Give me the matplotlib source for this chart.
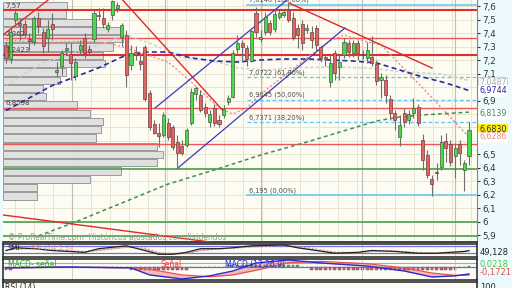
import numpy as np
import matplotlib
matplotlib.use('Agg')
import matplotlib.pyplot as plt
from matplotlib.ticker import FuncFormatter, FixedLocator

W, H = 512, 288

###############################################################################
# DATA
###############################################################################
opens = [7.314, 7.209, 7.500, 7.477, 7.470, 7.358, 7.336, 7.515, 7.410, 7.366,
         7.470, 7.113, 7.157, 7.276, 7.246, 7.083, 7.276, 7.366, 7.284, 7.358,
         7.537, 7.515, 7.432, 7.537, 7.589, 7.373, 7.388, 7.165, 7.261, 7.194,
         7.299, 6.956, 6.726, 6.659, 6.644, 6.733, 6.704, 6.592, 6.562, 6.569,
         6.733, 6.949, 6.942, 6.852, 6.741, 6.845, 6.756, 6.793, 6.890, 6.927,
         7.284, 7.328, 7.291, 7.194, 7.552, 7.358, 7.410, 7.477, 7.432, 7.522,
         7.537, 7.574, 7.515, 7.440, 7.470, 7.425, 7.410, 7.440, 7.299, 7.224,
         7.038, 7.254, 7.150, 7.239, 7.328, 7.254, 7.328, 7.246, 7.217, 7.224,
         7.172, 7.053, 7.053, 6.912, 6.808, 6.629, 6.808, 6.756, 6.808, 6.852,
         6.607, 6.495, 6.317, 6.369, 6.406, 6.599, 6.577, 6.488, 6.577, 6.384,
         6.488]
closes = [7.217, 7.410, 7.552, 7.462, 7.395, 7.343, 7.515, 7.455, 7.306, 7.432,
          7.432, 7.128, 7.254, 7.291, 7.180, 7.187, 7.314, 7.254, 7.261, 7.552,
          7.529, 7.470, 7.462, 7.641, 7.611, 7.462, 7.090, 7.254, 7.239, 7.172,
          6.912, 6.704, 6.659, 6.637, 6.793, 6.629, 6.555, 6.510, 6.510, 6.681,
          6.964, 6.994, 6.830, 6.808, 6.800, 6.733, 6.726, 6.837, 6.919, 7.254,
          7.328, 7.299, 7.209, 7.418, 7.410, 7.373, 7.522, 7.410, 7.544, 7.552,
          7.559, 7.500, 7.366, 7.388, 7.328, 7.440, 7.351, 7.314, 7.217, 7.209,
          7.180, 7.105, 7.187, 7.336, 7.261, 7.328, 7.254, 7.239, 7.276, 7.180,
          7.045, 7.075, 6.942, 6.808, 6.756, 6.718, 6.741, 6.800, 6.845, 6.733,
          6.458, 6.346, 6.279, 6.361, 6.592, 6.547, 6.443, 6.547, 6.510, 6.436,
          6.683]
highs = [7.336, 7.440, 7.574, 7.515, 7.500, 7.403, 7.529, 7.559, 7.440, 7.500,
         7.552, 7.187, 7.276, 7.328, 7.328, 7.217, 7.351, 7.403, 7.314, 7.574,
         7.589, 7.589, 7.485, 7.648, 7.633, 7.477, 7.425, 7.314, 7.306, 7.239,
         7.314, 6.979, 6.756, 6.733, 6.815, 6.770, 6.718, 6.644, 6.607, 6.696,
         6.994, 7.008, 6.979, 6.882, 6.830, 6.875, 6.793, 6.867, 6.942, 7.276,
         7.388, 7.351, 7.314, 7.440, 7.596, 7.425, 7.559, 7.500, 7.574, 7.574,
         7.574, 7.626, 7.559, 7.470, 7.500, 7.470, 7.455, 7.462, 7.314, 7.246,
         7.239, 7.276, 7.239, 7.366, 7.351, 7.351, 7.351, 7.276, 7.336, 7.381,
         7.202, 7.105, 7.090, 6.942, 6.830, 6.793, 6.845, 6.830, 6.919, 6.875,
         6.651, 6.532, 6.346, 6.436, 6.644, 6.659, 6.607, 6.584, 6.607, 6.458,
         6.741]
lows = [7.180, 7.180, 7.470, 7.351, 7.373, 7.276, 7.314, 7.403, 7.254, 7.261,
        7.351, 7.075, 7.090, 7.239, 7.053, 7.053, 7.239, 7.217, 7.239, 7.336,
        7.500, 7.440, 7.410, 7.500, 7.559, 7.306, 7.001, 7.128, 7.202, 7.128,
        6.897, 6.681, 6.651, 6.555, 6.629, 6.607, 6.532, 6.406, 6.495, 6.555,
        6.718, 6.904, 6.815, 6.778, 6.704, 6.711, 6.704, 6.770, 6.867, 6.919,
        7.239, 7.187, 7.157, 7.187, 7.373, 7.336, 7.388, 7.388, 7.410, 7.507,
        7.522, 7.485, 7.351, 7.291, 7.276, 7.403, 7.291, 7.276, 7.187, 7.157,
        7.001, 7.053, 7.053, 7.217, 7.224, 7.224, 7.202, 7.209, 7.180, 7.157,
        7.016, 6.919, 6.882, 6.756, 6.681, 6.562, 6.704, 6.726, 6.770, 6.711,
        6.384, 6.324, 6.190, 6.309, 6.384, 6.443, 6.413, 6.324, 6.421, 6.227,
        6.421]

# volume profile (relative volume per price band, top band first)
profile_vol = [64, 63, 93, 117, 120, 110, 100, 102, 63, 57, 40, 43,
               74, 87, 100, 98, 93, 154, 160, 154, 118, 87, 34, 34]
profile_top = 7.636
profile_step = 0.0615

# moving averages (bar index, value)
ma_blue_idx = [0, 10, 20, 25, 30, 35, 40, 45, 50, 55, 60, 65, 70, 75, 80, 85, 90, 95, 100]
ma_blue_val = [6.826, 7.012, 7.143, 7.224, 7.261, 7.261, 7.217, 7.194, 7.187, 7.202,
               7.209, 7.209, 7.202, 7.194, 7.180, 7.128, 7.075, 7.031, 6.9744]
ma_green_idx = [7, 15, 25, 35, 45, 55, 65, 75, 80, 85, 90, 100]
ma_green_val = [5.893, 5.997, 6.138, 6.279, 6.384, 6.495, 6.592, 6.696, 6.748, 6.778, 6.793, 6.8139]
ma_grey_idx = [0, 8, 20, 26, 32, 38, 44, 50, 56, 62, 70, 78, 86, 94, 100]
ma_grey_val = [7.016, 7.180, 7.314, 7.388, 7.314, 7.217, 7.202, 7.143, 7.128, 7.143,
               7.150, 7.143, 7.113, 7.098, 7.0487]
ma_pink_idx = [0, 8, 16, 22, 26, 35, 40, 46, 49, 52, 55, 60, 65, 70, 73, 78, 81, 90, 100]
ma_pink_val = [7.35, 7.33, 7.34, 7.33, 7.291, 7.187, 7.038, 6.845, 6.800, 6.845,
               6.949, 7.083, 7.217, 7.343, 7.388, 7.336, 7.314, 6.994, 6.6286]

# drawn trend lines: (idx0, price0, idx1, price1)
red_trends = [(-0.65, 7.388, 9.1, 7.648),
              (25.0, 7.655, 47.0, 6.820),
              (61.1, 7.626, 92.0, 7.142),
              (-0.65, 6.049, 44.1, 5.848)]
blue_channel = [(32.2, 6.845, 60.7, 7.648),
                (37.1, 6.398, 73.2, 7.440)]

# horizontal levels
red_thick = [7.57, 7.24]
red_thin = [7.362, 6.845, 6.577]
green_levels = [6.39, 5.997, 5.893]
left_labels = [(7.57, '7,57'), (7.362, '7,362'), (7.24, '7,2423'), (6.85, '6,8598')]

# fibonacci retracement
fib_start = 52.0
fib_levels = [7.6140, 7.0722, 6.9045, 6.7371, 6.195]
fib_names = ['7,6140 (100,00%)', '7,0722 (61,80%)', '6,9045 (50,00%)',
             '6,7371 (38,20%)', '6,195 (0,00%)']

# indicator 1 (SMI) and signal
smi_idx = [0, 2, 6, 10, 17, 20, 26, 30, 33, 36, 39, 42, 46, 49, 53, 60, 63, 67, 71,
           76, 79, 84, 89, 93, 96, 99, 100]
smi_val = [50, 71, 64, 50, 36, 64, 86, 50, 21, 21, 36, 64, 64, 71, 86, 93, 71, 50, 29,
           36, 50, 43, 29, 29, 36, 43, 49.128]
smi_sig = [50, 60, 66, 56, 42, 50, 75, 68, 35, 22, 28, 50, 62, 68, 78, 88, 82, 60, 38,
           32, 45, 46, 35, 30, 33, 40, 45]
smi_levels = [85, 30]

# MACD
macd_idx = [0, 13, 27, 31, 38, 44, 49, 54, 61, 68, 78, 86, 92, 97, 100]
macd_val = [-0.02, 0.0, -0.02, -0.17, -0.257, -0.19, -0.086, 0.086, 0.15, 0.086,
            0.02, -0.086, -0.214, -0.19, -0.150]
macd_sig = [-0.02, -0.005, -0.015, -0.05, -0.17, -0.21, -0.17, -0.07, 0.09, 0.12,
            0.07, -0.02, -0.13, -0.18, -0.1721]
macd_hist = [-0.06, -0.06, 0, 0, 0, 0, 0, 0, 0, 0,
             0, 0, 0, 0, 0, 0, 0, 0, 0, 0,
             0, 0, 0, 0, 0, 0, 0, -0.07, -0.07, -0.07,
             -0.07, -0.07, -0.07, -0.07, -0.07, -0.07, -0.07, -0.07, -0.07, -0.07,
             0, 0, 0, 0, 0, 0, 0, 0, 0.05, 0.05,
             0.05, 0.05, 0.05, 0.05, 0.05, 0.05, 0.05, 0.05, 0.05, 0.05,
             0.05, 0.05, 0.05, 0.05, 0, 0, -0.07, -0.07, -0.07, -0.07,
             -0.07, -0.07, -0.07, -0.07, -0.07, -0.07, -0.07, -0.07, -0.07, -0.07,
             -0.07, -0.07, -0.07, -0.07, -0.07, -0.07, -0.07, -0.07, -0.07, -0.07,
             -0.07, -0.07, -0.07, -0.07, -0.07, -0.07, -0.07, -0.07, 0, 0,
             0.0218]

# price ticks that sit behind the value boxes on the right
hidden_ticks = [7.0, 6.8, 6.7, 6.6]

###############################################################################
# FIGURE
###############################################################################
def px_rect(x0, y0, x1, y1):
    return [x0 / W, 1 - y1 / H, (x1 - x0) / W, (y1 - y0) / H]

XMIN, XMAX = -0.65, 101.73
BG = '#fcfcf2'
GRID = '#e9e4cf'
MONTHS = [14.3, 34.3, 55.1, 76.9, 97.0]

fig = plt.figure(figsize=(W / 100, H / 100), dpi=100, facecolor='#ecfafd')
ax = fig.add_axes(px_rect(3, 0, 477, 242))
ax.set_facecolor(BG)
ax.set_xlim(XMIN, XMAX)
ax.set_ylim(5.848, 7.648)

# grid
for g in np.arange(14.3 - 4.1 * 3, XMAX, 4.1):
    ax.axvline(g, color=GRID, lw=0.7, zorder=0)
for m in MONTHS:
    ax.axvline(m, color='#bdbdb5', lw=0.8, zorder=0.5)
for lv in np.arange(5.9, 7.65, 0.1):
    ax.axhline(lv, color=GRID, lw=0.7, zorder=0)

# volume profile
centers = profile_top - profile_step * (np.arange(len(profile_vol)) + 0.5)
ax.barh(centers, np.array(profile_vol) / 4.63, left=XMIN, height=profile_step * 0.88,
        color='#e0e0e0', edgecolor='#9a9a9a', lw=0.7, zorder=1.5)
for lv, txt in left_labels:
    ax.text(XMIN + 0.6, lv + 0.012, txt, fontsize=5, color='#444444', zorder=6, va='bottom')

# horizontal levels
for lv in red_thick:
    ax.axhline(lv, color='#e52b2b', lw=1.5, zorder=2)
for lv in red_thin:
    ax.axhline(lv, color='#ee5555', lw=1.0, zorder=2)
for lv in green_levels:
    ax.axhline(lv, color='#3c9a3c', lw=1.1, zorder=2)

# fibonacci
for k, (lv, name) in enumerate(zip(fib_levels, fib_names)):
    if k in (0, len(fib_levels) - 1):
        ax.plot([fib_start, XMAX], [lv, lv], color='#62c4ef', lw=1.1, zorder=2)
    else:
        ax.plot([fib_start, XMAX], [lv, lv], color='#62c4ef', lw=0.9, ls=(0, (3, 2)), zorder=2)
    ax.text(fib_start + 0.4, lv + 0.012, name, fontsize=4.8, color='#505050', va='bottom', zorder=6)

# moving averages
ax.plot(ma_grey_idx, ma_grey_val, color='#cfcfcf', lw=1.1, ls=(0, (2, 1.5)), zorder=2.5)
ax.plot(ma_pink_idx, ma_pink_val, color='#f08a8a', lw=1.0, ls=(0, (1.5, 1.5)), zorder=2.5)
ax.plot(ma_green_idx, ma_green_val, color='#3f8f56', lw=1.1, ls=(0, (2.5, 2)), zorder=2.5)
ax.plot(ma_blue_idx, ma_blue_val, color='#2a2aa8', lw=1.2, ls=(0, (3, 2)), zorder=2.5)

# trend lines
for x0, y0, x1, y1 in red_trends:
    ax.plot([x0, x1], [y0, y1], color='#e32626', lw=1.0, zorder=2.6)
for x0, y0, x1, y1 in blue_channel:
    ax.plot([x0, x1], [y0, y1], color='#3b3bc0', lw=0.9, zorder=2.6)

# candles
idx = np.arange(len(opens))
o = np.array(opens); c = np.array(closes)
ax.vlines(idx, lows, highs, color='#6e6e6e', lw=0.8, zorder=3)
up = c >= o
body = np.maximum(np.abs(c - o), 0.008)
ax.bar(idx[up], body[up], bottom=o[up], width=0.66, color='#46dc46',
       edgecolor='#4a5a4a', lw=0.5, zorder=4)
ax.bar(idx[~up], body[~up], bottom=c[~up], width=0.66, color='#e46464',
       edgecolor='#6a4040', lw=0.5, zorder=4)

ax.text(XMIN + 1, 5.862, '\u00a9 ProRealTime.com  Hist\u00f3ricos ajustados con dividendos',
        fontsize=5.5, color='#9a9a9a', zorder=6)

# axes style
def price_fmt(v, p):
    if any(abs(v - h) < 1e-6 for h in hidden_ticks):
        return ''
    return ('%g' % round(v, 1)).replace('.', ',')

ax.set_xticks([])
ax.yaxis.tick_right()
ax.yaxis.set_major_locator(FixedLocator(np.round(np.arange(5.9, 7.65, 0.1), 1)))
ax.yaxis.set_major_formatter(FuncFormatter(price_fmt))
ax.tick_params(axis='y', labelsize=6.3, length=2, pad=2, colors='#333333')
for s in ['top', 'left']:
    ax.spines[s].set_visible(False)
ax.spines['bottom'].set_color('#222222'); ax.spines['bottom'].set_linewidth(1.2)
ax.spines['right'].set_color('#888888')

# right side value boxes
def rlabel(ypx, txt, col, face='white', edge='#bbbbbb'):
    fig.text(479 / W, 1 - ypx / H, txt, fontsize=5.8, color=col, va='center', ha='left',
             bbox=dict(boxstyle='square,pad=0.1', fc=face, ec=edge, lw=0.5))

rlabel(82, '7,0487', '#aaaaaa')
rlabel(90.5, '6,9744', '#2a2aa8', edge='#ffffff')
rlabel(114, '6,8139', '#3f8f56', edge='#ffffff')
rlabel(129, '6,6830', '#333333', face='#ffee00', edge='#ffee00')
rlabel(137, '6,6286', '#f08a8a', edge='#ffffff')

###############################################################################
# SMI panel
###############################################################################
a1 = fig.add_axes(px_rect(3, 244, 477, 257))
a1.set_facecolor(BG)
a1.set_xlim(XMIN, XMAX); a1.set_ylim(0, 100)
for m in MONTHS:
    a1.axvline(m, color='#d6d3c6', lw=0.7)
for lv in smi_levels:
    a1.axhline(lv, color='#7070e0', lw=0.9)
a1.fill_between(smi_idx, smi_val, smi_sig, color='#a8a8a8', alpha=0.6, lw=0)
a1.plot(smi_idx, smi_sig, color='#f08a8a', lw=0.9, ls=(0, (1.5, 1.5)))
a1.plot(smi_idx, smi_val, color='#222222', lw=0.9)
a1.text(XMIN + 1, 96, 'SMI', fontsize=5, color='#222222', va='top')
a1.text(XMIN + 6, 96, 'RSI (14,5,3)', fontsize=5, color='#f08a8a', va='top')
a1.set_xticks([]); a1.set_yticks([])
for s in a1.spines.values():
    s.set_color('#222222'); s.set_linewidth(1.1)
fig.text(480 / W, 1 - 252 / H, '49,128', fontsize=6, color='#222222', va='center')

###############################################################################
# MACD panel
###############################################################################
a2 = fig.add_axes(px_rect(3, 259, 477, 280))
a2.set_facecolor(BG)
a2.set_xlim(XMIN, XMAX); a2.set_ylim(-0.279, 0.171)
for m in MONTHS:
    a2.axvline(m, color='#d6d3c6', lw=0.7)
a2.axhline(0.085, color='#a0a0f0', lw=0.8)
a2.axhline(0, color='#6a6ae8', lw=0.9)
a2.fill_between(macd_idx, macd_val, macd_sig, color='#f4a0a0', alpha=0.7, lw=0)
hist = np.array(macd_hist)
hcol = np.where(hist >= 0, '#46c846', '#e05050')
a2.bar(np.arange(len(hist)), hist, width=0.6, color=hcol, edgecolor='#555555', lw=0.3)
a2.plot(macd_idx, macd_sig, color='#e85050', lw=0.9)
a2.plot(macd_idx, macd_val, color='#2a2ad0', lw=1.0)
a2.text(XMIN + 1, 0.16, 'MACD- se\u00f1al', fontsize=5.5, color='#2fa02f', va='top')
a2.text(XMIN + 34, 0.16, 'Se\u00f1al', fontsize=5.5, color='#e04040', va='top')
a2.text(XMIN + 48, 0.16, 'MACD (12,26,9)', fontsize=5.5, color='#2a2ad0', va='top')
a2.set_xticks([]); a2.set_yticks([])
for s in a2.spines.values():
    s.set_color('#222222'); s.set_linewidth(1.1)
fig.text(480 / W, 1 - 265 / H, '0,0218', fontsize=6, color='#46c846', va='center')
fig.text(480 / W, 1 - 273 / H, '-0,1721', fontsize=6, color='#e85050', va='center')

###############################################################################
# RSI panel (only the top edge is visible)
###############################################################################
a3 = fig.add_axes(px_rect(3, 282, 477, 300))
a3.set_facecolor(BG)
a3.set_xlim(XMIN, XMAX)
a3.set_xticks([]); a3.set_yticks([])
for s in a3.spines.values():
    s.set_color('#222222'); s.set_linewidth(1.1)
a3.text(0.004, 0.92, 'RSI (14)', transform=a3.transAxes, fontsize=5.5, color='#222222', va='top')
fig.text(480 / W, 1 - 287 / H, '100', fontsize=6, color='#222222', va='center')

fig.savefig('out.png', dpi=100, facecolor=fig.get_facecolor())
